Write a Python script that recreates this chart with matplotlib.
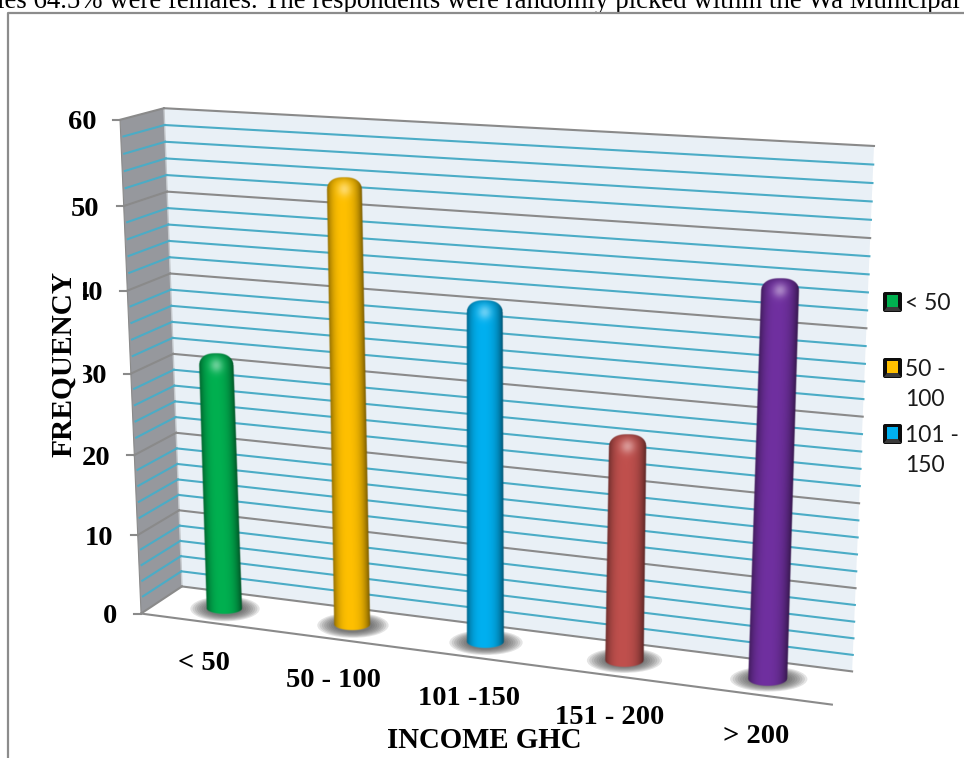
import numpy as np
import matplotlib
matplotlib.use('Agg')
import matplotlib.pyplot as plt
from matplotlib.patches import Ellipse, Polygon, FancyBboxPatch, Rectangle

categories = ['< 50', '50 - 100', '101 -150', '151 - 200', '> 200']
frequency = [32, 54, 41, 27, 46]
bar_colors = ['#00b050', '#ffc000', '#00b0f0', '#c0504d', '#7030a0']
y_ticks = [0, 10, 20, 30, 40, 50, 60]
minor_ticks = [v for v in range(0, 60, 2) if v % 10 != 0]
legend_labels = ['< 50', '50 -\n100', '101 -\n150']
page_text = 'ies 64.5% were females. The respondents were randomly picked within the Wa Municipal'

serif = 'Liberation Serif'
W, H = 964, 758
ymax = 60.0

# camera fitted to the corners of the 3d box: (x along axis, value/ymax, depth) -> pixel
world = [(0, 0, 0), (1, 0, 0), (0, 0, 1), (1, 0, 1), (0, 1, 1), (1, 1, 1), (0, 1, 0)]
pixel = [(141, 613), (832, 705), (182, 587), (852, 671), (164, 108), (874, 146), (120, 120)]

rows = []
for (a, b, c), (u, v) in zip(world, pixel):
    rows.append([a, b, c, 1, 0, 0, 0, 0, -u * a, -u * b, -u * c, -u])
    rows.append([0, 0, 0, 0, a, b, c, 1, -v * a, -v * b, -v * c, -v])
cam = np.linalg.svd(np.array(rows, dtype=float))[2][-1].reshape(3, 4)


def project(x, value, depth):
    # x in 0..1 along category axis, depth 0 = front, 1 = back wall
    p = cam @ np.array([x, value / ymax, depth, 1.0])
    return p[0] / p[2], p[1] / p[2]


def shaded(color, u, top_px):
    # u is -1..1 across the cylinder, top_px is the distance from the top in pixels
    base = np.array(matplotlib.colors.to_rgb(color))
    side = 1 - 0.42 * np.abs(u) ** 3.0 - 0.10 * np.clip(u, 0, 1)
    rgb = base[None, None, :] * side[:, :, None]
    cap = np.exp(-top_px / 3.5) * (0.22 + 0.1 * np.abs(u))
    rgb = rgb * (1 - cap[:, :, None])
    glow = np.exp(-((u / 0.38) ** 2) - ((top_px - 12) / 7.0) ** 2) * 0.40
    rgb = rgb + (1 - rgb) * glow[:, :, None]
    return np.clip(rgb, 0, 1)


def draw_bar(ax, i, value, color):
    x = (i + 0.5) / len(categories)
    bx, by = project(x, 0, 0.5)
    tx, ty = project(x, value, 0.5)
    half_b = 17.5 + i * 0.5
    half_t = 0.97 * half_b
    drop = 5.5 + i * 0.4

    # soft shadow on the floor
    for s in np.linspace(1.0, 0.55, 8):
        ax.add_patch(Ellipse((bx + 1, by + 1), 2 * half_b * 1.98 * s, 25 * s, fc='#4a4a4a',
                             ec='none', alpha=0.15, zorder=4))

    # bar is painted per pixel (2x) and keeps a soft alpha edge
    x0, x1 = min(bx, tx) - half_b - 3, max(bx, tx) + half_b + 3
    y0, y1 = ty - 2, by + drop + 2
    xs = np.arange(x0, x1, 0.5)
    ys = np.arange(y0, y1, 0.5)
    gx, gy = np.meshgrid(xs, ys)
    w = (by - gy) / (by - ty)
    half = half_b + (half_t - half_b) * w
    u = (gx - (bx + (tx - bx) * w)) / half
    uc = np.clip(np.abs(u), 0, 1)
    y_bot = by + drop * np.sqrt(1 - uc ** 2)
    y_top = ty + 12 * (1 - np.sqrt(1 - uc ** 2.6))
    a = np.minimum((1 - np.abs(u)) * half, np.minimum(gy - y_top, y_bot - gy))
    alpha = np.clip(a + 0.5, 0, 1)
    rgba = np.dstack([shaded(color, np.clip(u, -1, 1), gy - ty), alpha])
    ax.imshow(rgba, extent=(x0, xs[-1] + 0.5, ys[-1] + 0.5, y0), origin='upper', aspect='auto',
              interpolation='bilinear', zorder=5)


fig = plt.figure(figsize=(W / 100, H / 100), dpi=100)
ax = fig.add_axes([0, 0, 1, 1])
ax.axis('off')

# page behind the chart
ax.text(-3, 8, page_text, family=serif, fontsize=19.4, color='black', ha='left', va='baseline', zorder=1)
ax.plot([8, 8, W], [H, 13, 13], color='#8c8c8c', lw=1.6, zorder=1)

# walls
ax.add_patch(Polygon([project(0, 0, 1), project(1, 0, 1), project(1, ymax, 1), project(0, ymax, 1)],
                     fc='#e9f0f6', ec='none', zorder=2))
ax.add_patch(Polygon([project(0, 0, 0), project(0, 0, 1), project(0, ymax, 1), project(0, ymax, 0)],
                     fc='#96989d', ec='none', zorder=2))
ax.plot(*zip(project(0, 0, 1), project(0, ymax, 1)), color='#c4c8cc', lw=1.0, zorder=2)

for v in minor_ticks:
    ax.plot(*zip(project(0.0, v, 1), project(1, v, 1)), color='#4bacc6', lw=1.5, zorder=3)
    ax.plot(*zip(project(0, v, 0.06), project(0, v, 1)), color='#4bacc6', lw=1.5, zorder=3)

for v in y_ticks:
    ax.plot(*zip(project(0, v, 1), project(1, v, 1)), color='#8a8a8a', lw=1.5, zorder=3)
    ax.plot(*zip(project(0, v, 0), project(0, v, 1)), color='#8a8a8a', lw=1.5, zorder=3)
    px, py = project(0, v, 0)
    ax.plot([px - 7, px], [py, py], color='#8a8a8a', lw=1.5, zorder=3)
    ax.text(px - 24, py + 3, str(v), family=serif, fontsize=20.5, fontweight='bold', ha='right',
            va='center', zorder=6)

ax.plot(*zip(project(0, 0, 0), project(1, 0, 0)), color='#8a8a8a', lw=1.5, zorder=3)
ax.plot(*zip(project(0, ymax, 0), project(0, 0, 0)), color='#8a8a8a', lw=0.8, zorder=3)

for i, (value, color) in enumerate(zip(frequency, bar_colors)):
    draw_bar(ax, i, value, color)

ax.set_xlim(0, W)
ax.set_ylim(H, 0)

# category labels hang under the front edge of the floor
for i, label in enumerate(categories):
    px, py = project((i + 0.5) / len(categories), 0, 0)
    ax.text(px, py + 42, label, family=serif, fontsize=20.5, fontweight='bold', ha='center',
            va='center', zorder=7)

ax.text(484, 740, 'INCOME GHC', family=serif, fontsize=20.8, fontweight='bold', ha='center', va='center', zorder=7)

# the axis title box sits over the tick labels and hides part of 40 and 30
ax.add_patch(Rectangle((50, 270), 33, 186, fc='white', ec='none', zorder=6.5))
ax.text(64, 364, 'FREQUENCY', family=serif, fontsize=21.2, fontweight='bold', rotation=90, ha='center',
        va='center', zorder=7)

# legend
legend_y = [302, 368, 434]
for label, color, ly in zip(legend_labels, bar_colors, legend_y):
    ax.add_patch(FancyBboxPatch((883, ly - 10), 19, 20, boxstyle='round,pad=0,rounding_size=2', fc='#0d0d0d',
                                ec='none', zorder=6))
    ax.add_patch(Rectangle((887, ly - 7), 11, 12, fc=color, ec='none', zorder=7))
    ax.add_patch(Polygon([(887, ly + 5), (898, ly + 5), (901, ly + 9), (884, ly + 9)], fc='#3a3a3a', ec='none', zorder=7))
    ax.text(905, ly - 9, label, family='Lato', fontsize=16.5, color='#1a1a1a', ha='left', va='top',
            linespacing=1.55, zorder=7)

fig.savefig('out.png', dpi=100)
